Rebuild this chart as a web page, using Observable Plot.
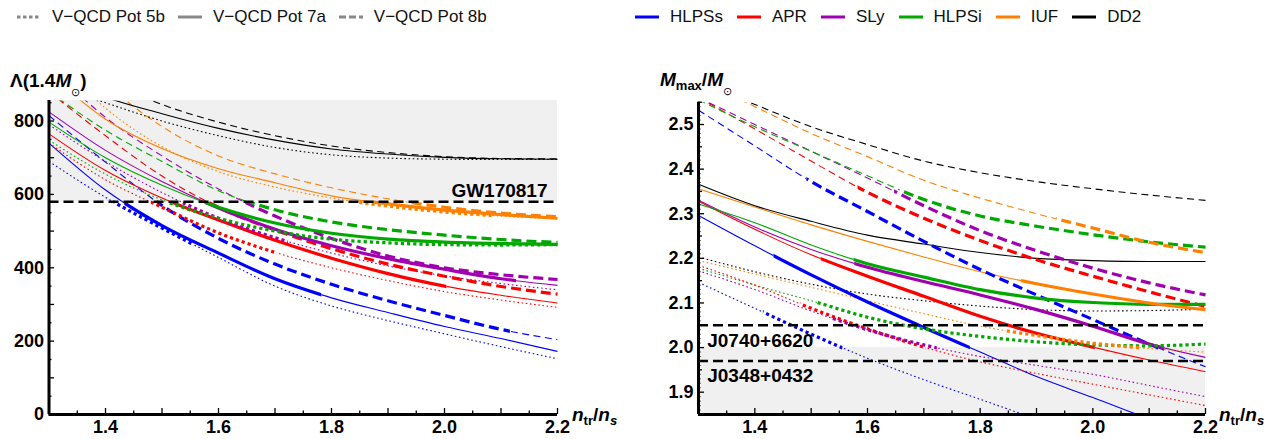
<!DOCTYPE html>
<html><head><meta charset="utf-8">
<script src="https://cdn.jsdelivr.net/npm/d3@7"></script>
<script src="https://cdn.jsdelivr.net/npm/@observablehq/plot@0.6"></script>
<style>
html,body{margin:0;padding:0;background:#fff;}
body{width:1271px;height:439px;overflow:hidden;font-family:"Liberation Sans",Arial,Helvetica,sans-serif;}
#legend{position:relative;height:40px;}
.lg{position:absolute;top:7px;display:flex;align-items:center;font-size:17px;line-height:20px;white-space:nowrap;color:#111;}
.item{display:flex;align-items:center;margin-right:13px;}
#lg2 .item{margin-right:14px;}
.item svg{margin-right:11px;display:block;}
#panels{display:flex;}
#panels svg{flex:0 0 auto;}
</style></head><body>
<div id="legend"><div class="lg" id="lg1"></div><div class="lg" id="lg2"></div></div>
<div id="panels"></div>
<script>
// ---------------- data ----------------
const nTr = [1.3, 1.4, 1.5, 1.6, 1.7, 1.8, 1.9, 2.0, 2.1, 2.2];
const eosNames = ["HLPSs", "APR", "SLy", "HLPSi", "IUF", "DD2"];
const potNames = ["V\u2212QCD Pot 5b", "V\u2212QCD Pot 7a", "V\u2212QCD Pot 8b"];

// tidal deformability Lambda(1.4 Msun)
const lambdaHLPSs5b = [690, 592, 508, 428, 350, 296, 256, 220, 185, 152];
const lambdaHLPSs7a = [740, 612, 515, 440, 370, 318, 278, 240, 207, 172];
const lambdaHLPSs8b = [815, 688, 570, 480, 410, 355, 310, 270, 232, 204];
const lambdaAPR5b   = [740, 640, 565, 495, 442, 400, 365, 335, 312, 292];
const lambdaAPR7a   = [765, 665, 590, 530, 475, 426, 384, 350, 325, 304];
const lambdaAPR8b   = [880, 760, 650, 565, 503, 452, 410, 377, 349, 328];
const lambdaSLy5b   = [790, 690, 605, 535, 482, 440, 405, 378, 357, 340];
const lambdaSLy7a   = [825, 720, 635, 563, 505, 460, 425, 396, 370, 352];
const lambdaSLy8b   = [950, 810, 705, 615, 541, 480, 432, 400, 381, 368];
const lambdaHLPSi5b = [748, 655, 585, 535, 500, 478, 468, 463, 462, 463];
const lambdaHLPSi7a = [797, 700, 625, 565, 522, 494, 478, 470, 466, 464];
const lambdaHLPSi8b = [880, 775, 690, 610, 558, 525, 504, 489, 477, 469];
const lambdaIUF5b   = [985, 835, 730, 662, 620, 590, 568, 552, 541, 533];
const lambdaIUF7a   = [930, 805, 725, 670, 632, 596, 574, 557, 545, 535];
const lambdaIUF8b   = [1080, 905, 785, 705, 656, 618, 588, 565, 549, 539];
const lambdaDD25b   = [905, 850, 800, 760, 728, 708, 699, 696, 695, 695];
const lambdaDD27a   = [930, 865, 820, 780, 748, 724, 710, 701, 697, 696];
const lambdaDD28b   = [985, 910, 845, 797, 760, 732, 714, 703, 698, 697];

// maximum mass Mmax / Msun
const massHLPSs5b = [2.146, 2.088, 2.030, 1.976, 1.928, 1.884, 1.840, 1.798, 1.756, 1.716];
const massHLPSs7a = [2.296, 2.228, 2.163, 2.102, 2.045, 1.990, 1.935, 1.888, 1.840, 1.795];
const massHLPSs8b = [2.532, 2.452, 2.372, 2.305, 2.238, 2.175, 2.118, 2.063, 2.008, 1.957];
const massAPR5b   = [2.184, 2.140, 2.088, 2.042, 2.001, 1.968, 1.942, 1.918, 1.894, 1.870];
const massAPR7a   = [2.328, 2.265, 2.208, 2.160, 2.115, 2.070, 2.032, 2.001, 1.972, 1.946];
const massAPR8b   = [2.560, 2.490, 2.418, 2.348, 2.290, 2.240, 2.197, 2.160, 2.125, 2.092];
const massSLy5b   = [2.172, 2.130, 2.082, 2.040, 2.006, 1.980, 1.960, 1.940, 1.915, 1.890];
const massSLy7a   = [2.330, 2.270, 2.220, 2.180, 2.148, 2.118, 2.085, 2.048, 2.008, 1.978];
const massSLy8b   = [2.560, 2.500, 2.440, 2.380, 2.318, 2.262, 2.217, 2.178, 2.145, 2.118];
const massHLPSi5b = [2.178, 2.140, 2.105, 2.068, 2.042, 2.025, 2.013, 2.006, 2.004, 2.008];
const massHLPSi7a = [2.322, 2.280, 2.230, 2.188, 2.158, 2.130, 2.111, 2.101, 2.097, 2.097];
const massHLPSi8b = [2.555, 2.495, 2.440, 2.385, 2.332, 2.295, 2.272, 2.253, 2.237, 2.225];
const massIUF5b   = [2.195, 2.165, 2.135, 2.105, 2.076, 2.048, 2.027, 2.010, 1.998, 1.990];
const massIUF7a   = [2.356, 2.315, 2.275, 2.238, 2.203, 2.170, 2.143, 2.120, 2.100, 2.085];
const massIUF8b   = [2.600, 2.540, 2.480, 2.428, 2.375, 2.335, 2.300, 2.268, 2.236, 2.213];
const massDD25b   = [2.203, 2.170, 2.142, 2.120, 2.105, 2.093, 2.085, 2.082, 2.083, 2.086];
const massDD27a   = [2.366, 2.318, 2.283, 2.252, 2.232, 2.213, 2.200, 2.195, 2.193, 2.193];
const massDD28b   = [2.600, 2.545, 2.495, 2.455, 2.418, 2.392, 2.372, 2.356, 2.342, 2.330];

// observational limits
const GW_LAMBDA = 580;     // GW170817
const J0740_MASS = 2.05;
const J0348_MASS = 1.97;
const MASS_BAND = 2.0;

// axis ranges and tick labels
const lambdaDomain = [0, 856];
const massDomain = [1.85, 2.55];
const xTickLabels = [1.4, 1.6, 1.8, 2.0, 2.2];
const lambdaTickLabels = [0, 200, 400, 600, 800];
const massTickLabels = [1.9, 2.0, 2.1, 2.2, 2.3, 2.4, 2.5];

// ---------------- styles ----------------
const eosColors = ["#0000ff", "#ff0000", "#a000b0", "#00a800", "#ff8000", "#000000"];
const FONT = "'Liberation Sans', Arial, Helvetica, sans-serif";

const lambdaCurves = [
  [lambdaHLPSs5b, lambdaHLPSs7a, lambdaHLPSs8b],
  [lambdaAPR5b, lambdaAPR7a, lambdaAPR8b],
  [lambdaSLy5b, lambdaSLy7a, lambdaSLy8b],
  [lambdaHLPSi5b, lambdaHLPSi7a, lambdaHLPSi8b],
  [lambdaIUF5b, lambdaIUF7a, lambdaIUF8b],
  [lambdaDD25b, lambdaDD27a, lambdaDD28b]
];
const massCurves = [
  [massHLPSs5b, massHLPSs7a, massHLPSs8b],
  [massAPR5b, massAPR7a, massAPR8b],
  [massSLy5b, massSLy7a, massSLy8b],
  [massHLPSi5b, massHLPSi7a, massHLPSi8b],
  [massIUF5b, massIUF7a, massIUF8b],
  [massDD25b, massDD27a, massDD28b]
];

const N_MIN = nTr[0], N_MAX = nTr[nTr.length - 1];

function dashFor(pot, thick) {
  if (pot === 0) return thick ? "3.2,3" : "1.6,2.6";
  if (pot === 2) return thick ? "10,5" : "7,4.5";
  return undefined;
}

function interp(arr, x) {
  for (let k = 0; k < nTr.length - 1; k++) {
    if (x >= nTr[k] - 1e-12 && x <= nTr[k + 1] + 1e-12) {
      const t = (x - nTr[k]) / (nTr[k + 1] - nTr[k]);
      return arr[k] + t * (arr[k + 1] - arr[k]);
    }
  }
  return NaN;
}

// x-intervals where a curve is compatible with both constraints (drawn thick)
function thickIntervals(lam, mass) {
  const pts = new Set(nTr);
  for (let k = 0; k < nTr.length - 1; k++) {
    const x0 = nTr[k], x1 = nTr[k + 1];
    const cross = (a, b, level) => {
      if ((a - level) * (b - level) < 0) pts.add(x0 + (level - a) / (b - a) * (x1 - x0));
    };
    cross(lam[k], lam[k + 1], GW_LAMBDA);
    cross(mass[k], mass[k + 1], MASS_BAND);
  }
  const xs = [...pts].sort((a, b) => a - b);
  const out = [];
  for (let i = 0; i < xs.length - 1; i++) {
    const m = (xs[i] + xs[i + 1]) / 2;
    if (interp(lam, m) < GW_LAMBDA && interp(mass, m) > MASS_BAND) {
      if (out.length && Math.abs(out[out.length - 1][1] - xs[i]) < 1e-9) out[out.length - 1][1] = xs[i + 1];
      else out.push([xs[i], xs[i + 1]]);
    }
  }
  return out;
}
function complement(iv) {
  const out = []; let s = N_MIN;
  for (const [a, b] of iv) { if (a > s) out.push([s, a]); s = b; }
  if (s < N_MAX) out.push([s, N_MAX]);
  return out;
}

// build line marks + clip specs for one panel
function curveMarks(valuesOf) {
  const thin = [], thick = [], thinClips = [], thickClips = [];
  eosNames.forEach((name, e) => {
    for (let p = 0; p < 3; p++) {
      const vals = valuesOf(e, p);
      const data = nTr.map((x, k) => ({x, y: vals[k]}));
      const iv = thickIntervals(lambdaCurves[e][p], massCurves[e][p]);
      thin.push(Plot.line(data, {x: "x", y: "y", stroke: eosColors[e], strokeWidth: 1.1,
        strokeDasharray: dashFor(p, false), strokeLinecap: "butt", curve: "monotone-x"}));
      thinClips.push(complement(iv));
      thick.push(Plot.line(data, {x: "x", y: "y", stroke: eosColors[e], strokeWidth: 3.2,
        strokeDasharray: dashFor(p, true), strokeLinecap: "butt", curve: "monotone-x"}));
      thickClips.push(iv);
    }
  });
  return {marks: [...thin, ...thick], clips: [...thinClips, ...thickClips]};
}

const NS = "http://www.w3.org/2000/svg";
function applyClips(svg, clips, prefix) {
  const xs = svg.scale("x"), ys = svg.scale("y");
  const top = Math.min(...ys.range), bottom = Math.max(...ys.range);
  const defs = document.createElementNS(NS, "defs");
  svg.insertBefore(defs, svg.firstChild);
  const groups = svg.querySelectorAll('g[aria-label="line"]');
  clips.forEach((iv, i) => {
    const id = `${prefix}-clip-${i}`;
    const cp = document.createElementNS(NS, "clipPath");
    cp.setAttribute("id", id);
    for (const [a, b] of iv) {
      const r = document.createElementNS(NS, "rect");
      const xa = xs.apply(a) - (a === N_MIN ? 3 : 0), xb = xs.apply(b) + (b === N_MAX ? 3 : 0);
      r.setAttribute("x", xa); r.setAttribute("width", Math.max(0, xb - xa));
      r.setAttribute("y", top); r.setAttribute("height", bottom - top);
      cp.appendChild(r);
    }
    defs.appendChild(cp);
    if (groups[i]) groups[i].setAttribute("clip-path", `url(#${id})`);
  });
}

function addLabel(svg, x, y, parts) {
  const t = document.createElementNS(NS, "text");
  t.setAttribute("x", x); t.setAttribute("y", y);
  t.setAttribute("text-anchor", "start");
  t.setAttribute("font-family", FONT); t.setAttribute("font-weight", "bold");
  t.setAttribute("font-size", 19); t.setAttribute("fill", "#000");
  let shift = 0;
  for (const pt of parts) {
    const s = document.createElementNS(NS, "tspan");
    s.textContent = pt.t;
    const want = pt.shift || 0;
    if (want !== shift) { s.setAttribute("dy", want - shift); shift = want; }
    if (pt.italic) s.setAttribute("font-style", "italic");
    if (pt.size) s.setAttribute("font-size", pt.size);
    if (pt.weight) s.setAttribute("font-weight", pt.weight);
    t.appendChild(s);
  }
  svg.appendChild(t);
}

const xMajor = d3.range(13, 23).map(d => d / 10);
const xMinor = d3.range(13, 22).map(d => (d + 0.5) / 10);

function xAxes() {
  return [
    Plot.axisX({ticks: xMajor, tickSize: 6, dy: -6, tickFormat: () => "", label: null, strokeWidth: 1.3}),
    Plot.axisX({ticks: xMinor, tickSize: 3.5, dy: -3.5, tickFormat: () => "", label: null, strokeWidth: 1.3}),
    Plot.axisX({ticks: xTickLabels, tickSize: 0, tickPadding: 6, tickFormat: d => d.toFixed(1),
      fontSize: 18, fontWeight: "bold", fill: "#000", label: null}),
    Plot.ruleX([N_MIN], {stroke: "#000", strokeWidth: 3}),
  ];
}

// ---------------- left panel: Lambda ----------------
const left = curveMarks((e, p) => lambdaCurves[e][p]);
const svgL = Plot.plot({
  width: 636, height: 399,
  marginLeft: 48.5, marginRight: 79, marginTop: 60, marginBottom: 25,
  x: {domain: [N_MIN, N_MAX]},
  y: {domain: lambdaDomain},
  style: {fontFamily: FONT, background: "#fff", color: "#000"},
  marks: [
    Plot.rect([{x1: N_MIN, x2: N_MAX, y1: GW_LAMBDA, y2: lambdaDomain[1]}],
      {x1: "x1", x2: "x2", y1: "y1", y2: "y2", fill: "#f0f0f0"}),
    ...left.marks,
    Plot.ruleY([GW_LAMBDA], {stroke: "#000", strokeWidth: 2.5, strokeDasharray: "10,5"}),
    Plot.text([{x: N_MAX, y: GW_LAMBDA, t: "GW170817"}], {x: "x", y: "y", text: "t",
      textAnchor: "end", dx: -10, dy: -11, fontSize: 19, fontWeight: "bold", fill: "#000"}),
    ...xAxes(),
    Plot.axisY({ticks: d3.range(0, 900, 100), tickSize: 5.5, dx: 5.5, tickFormat: () => "", label: null, strokeWidth: 1.3}),
    Plot.axisY({ticks: d3.range(50, 900, 100), tickSize: 3, dx: 3, tickFormat: () => "", label: null, strokeWidth: 1.3}),
    Plot.axisY({ticks: lambdaTickLabels, tickSize: 0, tickPadding: 5, fontSize: 18, fontWeight: "bold", fill: "#000", label: null}),
    Plot.ruleY([lambdaDomain[0]], {stroke: "#000", strokeWidth: 3})
  ]
});
applyClips(svgL, left.clips, "L");
addLabel(svgL, 10, 47, [{t: "\u039b(1.4"}, {t: "M", italic: true}, {t: "\u2299", size: 11, shift: 9, weight: "normal"}, {t: ")", shift: 0}]);
addLabel(svgL, 572, 381, [{t: "n", italic: true}, {t: "tr", size: 13, shift: 4}, {t: "/", shift: 0}, {t: "n", italic: true}, {t: "s", italic: true, size: 13, shift: 4}]);

// ---------------- right panel: Mmax ----------------
const right = curveMarks((e, p) => massCurves[e][p]);
const svgR = Plot.plot({
  width: 635, height: 399,
  marginLeft: 62, marginRight: 66, marginTop: 61.7, marginBottom: 25,
  x: {domain: [N_MIN, N_MAX]},
  y: {domain: massDomain},
  style: {fontFamily: FONT, background: "#fff", color: "#000"},
  marks: [
    Plot.rect([{x1: N_MIN, x2: N_MAX, y1: massDomain[0], y2: MASS_BAND}],
      {x1: "x1", x2: "x2", y1: "y1", y2: "y2", fill: "#f0f0f0"}),
    ...right.marks,
    Plot.ruleY([J0740_MASS, J0348_MASS], {stroke: "#000", strokeWidth: 2.5, strokeDasharray: "10,5"}),
    Plot.text([{x: N_MIN, y: J0740_MASS, t: "J0740+6620"}, {x: N_MIN, y: J0348_MASS, t: "J0348+0432"}],
      {x: "x", y: "y", text: "t", textAnchor: "start", dx: 8.7, dy: 15.2, fontSize: 19, fontWeight: "bold", fill: "#000"}),
    ...xAxes(),
    Plot.axisY({ticks: d3.range(19, 26).map(d => d / 10), tickSize: 6, dx: 6, tickFormat: () => "", label: null, strokeWidth: 1.3}),
    Plot.axisY({ticks: d3.range(185, 256, 10).map(d => d / 100), tickSize: 4, dx: 4, tickFormat: () => "", label: null, strokeWidth: 1.3}),
    Plot.axisY({ticks: d3.range(185, 256).filter(d => d % 5 !== 0).map(d => d / 100), tickSize: 2.5, dx: 2.5, tickFormat: () => "", label: null, strokeWidth: 1.1}),
    Plot.axisY({ticks: massTickLabels, tickSize: 0, tickPadding: 5, tickFormat: d => d.toFixed(1), fontSize: 18, fontWeight: "bold", fill: "#000", label: null}),
    Plot.ruleY([massDomain[0]], {stroke: "#000", strokeWidth: 3})
  ]
});
applyClips(svgR, right.clips, "R");
addLabel(svgR, 24, 46, [{t: "M", italic: true}, {t: "max", size: 13, shift: 4}, {t: "/", shift: 0}, {t: "M", italic: true}, {t: "\u2299", size: 11, shift: 9, weight: "normal"}]);
addLabel(svgR, 583, 381, [{t: "n", italic: true}, {t: "tr", size: 13, shift: 4}, {t: "/", shift: 0}, {t: "n", italic: true}, {t: "s", italic: true, size: 13, shift: 4}]);

document.getElementById("panels").append(svgL, svgR);

// ---------------- legend ----------------
function swatch(color, dash) {
  const s = document.createElementNS(NS, "svg");
  s.setAttribute("width", 24); s.setAttribute("height", 8);
  const l = document.createElementNS(NS, "line");
  l.setAttribute("x1", 0); l.setAttribute("x2", 24); l.setAttribute("y1", 4); l.setAttribute("y2", 4);
  l.setAttribute("stroke", color); l.setAttribute("stroke-width", 3);
  if (dash) l.setAttribute("stroke-dasharray", dash);
  s.appendChild(l);
  return s;
}
function legendItem(parent, color, dash, label) {
  const d = document.createElement("div"); d.className = "item";
  d.appendChild(swatch(color, dash));
  const sp = document.createElement("span"); sp.textContent = label;
  d.appendChild(sp); parent.appendChild(d);
}
const lg1 = document.getElementById("lg1"), lg2 = document.getElementById("lg2");
lg1.style.left = "17px"; lg2.style.left = "635px";
const legendDash = ["3.5,2.5", null, "7,3"];
potNames.forEach((n, p) => legendItem(lg1, "#888", legendDash[p], n));
eosNames.forEach((n, e) => legendItem(lg2, eosColors[e], null, n));
</script></body></html>
